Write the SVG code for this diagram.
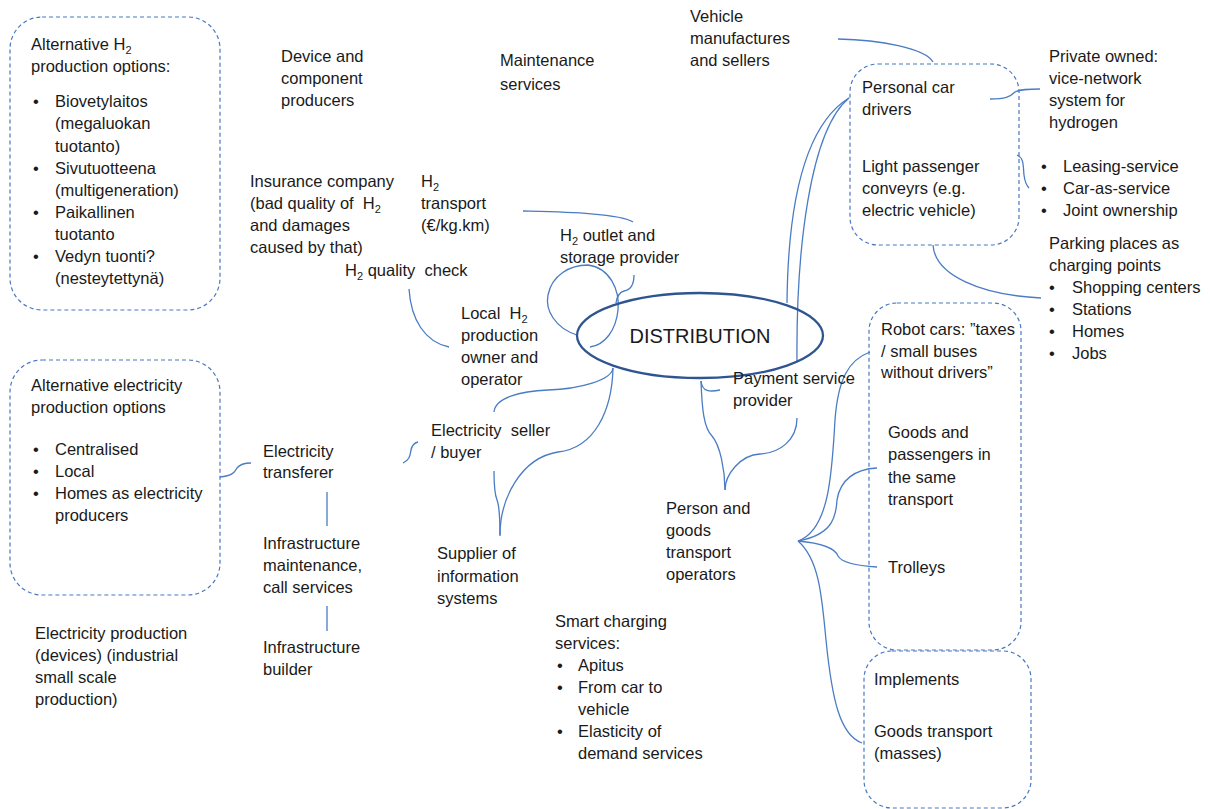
<svg xmlns="http://www.w3.org/2000/svg" width="1210" height="809" viewBox="0 0 1210 809">
<style>
text{font-family:"Liberation Sans",Arial,sans-serif;font-size:16.5px;fill:#1a1a1a;white-space:pre}
.box{fill:none;stroke:#4a78c2;stroke-width:1.2;stroke-dasharray:4 3}
.c{fill:none;stroke:#4a7cc4;stroke-width:1.3}
.sub{font-size:11px}
</style>
<rect width="1210" height="809" fill="#fff"/>
<g id="connectors">
<path class="c" d="M838,39 C880,40 925,48 933,62"/>
<path class="c" d="M990,99 C1005,99 1010,97 1015,92 C1020,89 1030,89 1040,89"/>
<path class="c" d="M1017,155 C1024,158 1023,165 1024,175 C1025,183 1027,186 1029,188"/>
<path class="c" d="M933,245 C935,275 980,295 1041,298"/>
<path class="c" d="M787,303 C788,200 805,125 849,98"/>
<path class="c" d="M797,361 C796,250 810,130 849,98"/>
<path class="c" d="M523,211 C560,212 620,213 633,222"/>
<path class="c" d="M409,289 C411,320 425,342 449,347"/>
<path class="c" d="M577,335 C555,328 545,310 548,295 C552,275 570,265 588,265 C610,268 620,290 618,310 C616,330 605,345 590,347"/>
<path class="c" d="M634,275 C634,285 630,290 624,291 C620,292 617,296 616,303"/>
<path class="c" d="M613,368 C612,380 580,389 548,390 C520,391 495,398 494,412"/>
<path class="c" d="M613,368 C612,410 595,448 558,452 C520,458 500,500 500,535"/>
<path class="c" d="M494,471 C494,485 495,495 497,500 C499,505 500,520 500,536"/>
<path class="c" d="M403,463 C410,460 410,455 411,450 C412,445 414,443 418,442"/>
<path class="c" d="M220,477 C232,476 235,472 237,468 C240,464 244,463 251,463"/>
<path class="c" d="M327,492 V526 M327,606 V631"/>
<path class="c" d="M701,381 C702,392 710,392 720,390"/>
<path class="c" d="M701,381 C702,410 704,428 712,436 C720,445 725,470 725,490"/>
<path class="c" d="M797,418 C797,440 780,453 760,454 C740,455 725,475 725,490"/>
<path class="c" d="M798,541 C830,530 832,470 835,420 C838,380 848,360 870,352"/>
<path class="c" d="M798,541 C830,535 836,520 837,500 C840,480 855,469 877,468"/>
<path class="c" d="M798,541 C820,543 835,548 838,556 C842,563 860,566 877,567"/>
<path class="c" d="M798,541 C820,560 822,600 826,640 C832,700 840,735 862,743"/>
</g>
<g id="distribution">
<ellipse cx="700" cy="335.5" rx="123" ry="42.5" fill="none" stroke="#2f5590" stroke-width="2.3"/>
<text x="700" y="343" text-anchor="middle" style="font-size:20px">DISTRIBUTION</text>
</g>
<g id="alt-h2">
<rect class="box" x="10" y="17" width="210" height="293" rx="32"/>
<text x="31" y="50">Alternative H<tspan class="sub" dy="4">2</tspan></text>
<text x="31" y="72">production options:</text>
<text x="33" y="107">•</text><text x="55" y="107">Biovetylaitos</text>
<text x="55" y="129">(megaluokan</text>
<text x="55" y="152">tuotanto)</text>
<text x="33" y="174">•</text><text x="55" y="174">Sivutuotteena</text>
<text x="55" y="196">(multigeneration)</text>
<text x="33" y="218">•</text><text x="55" y="218">Paikallinen</text>
<text x="55" y="240">tuotanto</text>
<text x="33" y="262">•</text><text x="55" y="262">Vedyn tuonti?</text>
<text x="55" y="284">(nesteytettynä)</text>
</g>
<g id="device"><text x="281" y="62">Device and</text><text x="281" y="84">component</text><text x="281" y="106">producers</text></g>
<g id="maintenance"><text x="500" y="66">Maintenance</text><text x="500" y="90">services</text></g>
<g id="vehicle"><text x="690" y="22">Vehicle</text><text x="690" y="44">manufactures</text><text x="690" y="66">and sellers</text></g>
<g id="insurance"><text x="250" y="187">Insurance company</text><text x="250" y="209">(bad quality of  H<tspan class="sub" dy="4">2</tspan></text><text x="250" y="231">and damages</text><text x="250" y="253">caused by that)</text></g>
<g id="h2-transport"><text x="421" y="187">H<tspan class="sub" dy="4">2</tspan></text><text x="421" y="209">transport</text><text x="421" y="231">(€/kg.km)</text></g>
<g id="h2-outlet"><text x="560" y="241">H<tspan class="sub" dy="4">2</tspan><tspan dy="-4"> outlet and</tspan></text><text x="560" y="263">storage provider</text></g>
<g id="h2-quality"><text x="345" y="276">H<tspan class="sub" dy="4">2</tspan><tspan dy="-4"> quality  check</tspan></text></g>
<g id="local-h2"><text x="461" y="319">Local  H<tspan class="sub" dy="4">2</tspan></text><text x="461" y="341">production</text><text x="461" y="363">owner and</text><text x="461" y="385">operator</text></g>
<g id="payment"><text x="733" y="384">Payment service</text><text x="733" y="406">provider</text></g>
<g id="elec-seller"><text x="431" y="436">Electricity  seller</text><text x="431" y="458">/ buyer</text></g>
<g id="alt-elec">
<rect class="box" x="10" y="360" width="210" height="235" rx="32"/>
<text x="31" y="391">Alternative electricity</text>
<text x="31" y="413">production options</text>
<text x="33" y="455">•</text><text x="55" y="455">Centralised</text>
<text x="33" y="477">•</text><text x="55" y="477">Local</text>
<text x="33" y="499">•</text><text x="55" y="499">Homes as electricity</text>
<text x="55" y="521">producers</text>
</g>
<g id="elec-transferer"><text x="263" y="457">Electricity</text><text x="263" y="478">transferer</text></g>
<g id="infra-maint"><text x="263" y="549">Infrastructure</text><text x="263" y="571">maintenance,</text><text x="263" y="593">call services</text></g>
<g id="infra-builder"><text x="263" y="653">Infrastructure</text><text x="263" y="675">builder</text></g>
<g id="elec-prod"><text x="35" y="639">Electricity production</text><text x="35" y="661">(devices) (industrial</text><text x="35" y="683">small scale</text><text x="35" y="705">production)</text></g>
<g id="supplier"><text x="437" y="559">Supplier of</text><text x="437" y="582">information</text><text x="437" y="604">systems</text></g>
<g id="operators"><text x="666" y="514">Person and</text><text x="666" y="536">goods</text><text x="666" y="558">transport</text><text x="666" y="580">operators</text></g>
<g id="smart"><text x="555" y="627">Smart charging</text><text x="555" y="649">services:</text>
<text x="557" y="671">•</text><text x="578" y="671">Apitus</text>
<text x="557" y="693">•</text><text x="578" y="693">From car to</text>
<text x="578" y="715">vehicle</text>
<text x="557" y="737">•</text><text x="578" y="737">Elasticity of</text>
<text x="578" y="759">demand services</text></g>
<g id="personal">
<rect class="box" x="850" y="64" width="169" height="181" rx="28"/>
<text x="862" y="93">Personal car</text><text x="862" y="115">drivers</text>
<text x="862" y="172">Light passenger</text><text x="862" y="194">conveyrs (e.g.</text><text x="862" y="216">electric vehicle)</text>
</g>
<g id="private"><text x="1049" y="62">Private owned:</text><text x="1049" y="84">vice-network</text><text x="1049" y="106">system for</text><text x="1049" y="128">hydrogen</text></g>
<g id="leasing"><text x="1041" y="172">•</text><text x="1063" y="172">Leasing-service</text>
<text x="1041" y="194">•</text><text x="1063" y="194">Car-as-service</text>
<text x="1041" y="216">•</text><text x="1063" y="216">Joint ownership</text></g>
<g id="parking"><text x="1049" y="249">Parking places as</text><text x="1049" y="271">charging points</text>
<text x="1049" y="293">•</text><text x="1072" y="293">Shopping centers</text>
<text x="1049" y="315">•</text><text x="1072" y="315">Stations</text>
<text x="1049" y="337">•</text><text x="1072" y="337">Homes</text>
<text x="1049" y="359">•</text><text x="1072" y="359">Jobs</text></g>
<g id="robot">
<rect class="box" x="869" y="303" width="152" height="347" rx="28"/>
<text x="881" y="335">Robot cars: ”taxes</text><text x="881" y="357">/ small buses</text><text x="881" y="378">without drivers”</text>
<text x="888" y="438">Goods and</text><text x="888" y="460">passengers in</text><text x="888" y="483">the same</text><text x="888" y="505">transport</text>
<text x="888" y="573">Trolleys</text>
</g>
<g id="implements">
<rect class="box" x="864" y="651" width="167" height="157" rx="28"/>
<text x="874" y="685">Implements</text>
<text x="874" y="737">Goods transport</text><text x="874" y="759">(masses)</text>
</g>
</svg>
